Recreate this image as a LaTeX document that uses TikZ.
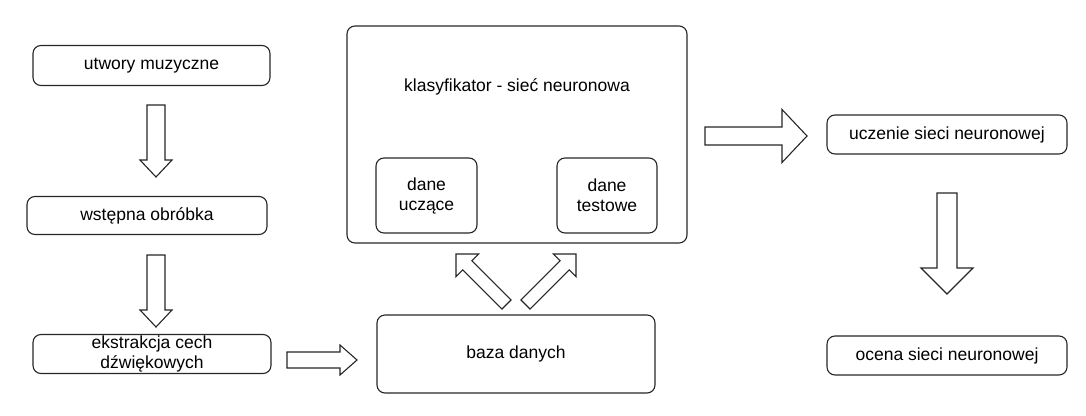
\documentclass[tikz,border=0pt]{standalone}
\usepackage{fontspec}
\setmainfont{Liberation Sans}
\usetikzlibrary{calc}
\tikzset{
	box/.style={rectangle, rounded corners=8pt, draw=black!85, line width=1.1pt, align=center, inner sep=0pt, font=\fontsize{17.5}{20}\selectfont},
	barrow/.style={draw=black!85, line width=1.1pt, fill=white, line join=miter},
	txt/.style={font=\fontsize{17.5}{20}\selectfont}
}
% block arrow: from, to, shaft half width, head half width, head length
\newcommand{\blockarrow}[5]{%
	\draw[barrow] let \p1=(#1), \p2=(#2), \n1={atan2(\y2-\y1,\x2-\x1)}, \n2={veclen(\x2-\x1,\y2-\y1)} in
	[shift={(\p1)}, rotate=\n1] (0pt,#3pt)--({\n2-#5pt},#3pt)--({\n2-#5pt},#4pt)--(\n2,0pt)
	--({\n2-#5pt},-#4pt)--({\n2-#5pt},-#3pt)--(0pt,-#3pt)--cycle;}
\begin{document}
\begin{tikzpicture}[x=1pt,y=-1pt]
\useasboundingbox (0,0) rectangle (1086,415);
% left column
\node[box, minimum width=237pt, minimum height=40pt](utw) at (151.5,65.5){utwory muzyczne};
\node[box, minimum width=240pt, minimum height=38pt](wst) at (147,215.5){wstępna obróbka};
\node[box, minimum width=238pt, minimum height=39pt](ekst) at (152,354){ekstrakcja cech\\dźwiękowych};
% middle
\node[box, minimum width=340pt, minimum height=217pt](klas) at (517,134.5){};
\node[txt](klastxt) at (517,87){klasyfikator - sieć neuronowa};
\node[box, minimum width=101pt, minimum height=75pt](ucz) at (426.5,195.5){dane\\uczące};
\node[box, minimum width=100pt, minimum height=75pt](test) at (607,195.5){dane\\testowe};
\node[box, minimum width=278pt, minimum height=78pt](baza) at (516,354){baza danych};
% right column
\node[box, minimum width=240pt, minimum height=39pt](ucz2) at (947,134.5){uczenie sieci neuronowej};
\node[box, minimum width=240pt, minimum height=39pt](ocena) at (947,355.5){ocena sieci neuronowej};
% arrow ends
\coordinate(a1s) at (156,105); \coordinate(a1e) at (156,177);
\coordinate(a2s) at (156,255); \coordinate(a2e) at (156,327);
\coordinate(a3s) at (287,360); \coordinate(a3e) at (357,360);
\coordinate(dls) at (506.5,304.5); \coordinate(dle) at (456,254);
\coordinate(drs) at (525.5,304.5); \coordinate(dre) at (576,254);
\coordinate(a4s) at (705,136); \coordinate(a4e) at (807,136);
\coordinate(a5s) at (947,193); \coordinate(a5e) at (947,294);
\blockarrow{a1s}{a1e}{9}{16}{17}
\blockarrow{a2s}{a2e}{9}{16}{17}
\blockarrow{a3s}{a3e}{8}{15}{17}
\blockarrow{dls}{dle}{6.5}{16}{16}
\blockarrow{drs}{dre}{6.5}{16}{16}
\blockarrow{a4s}{a4e}{9}{26.5}{25}
\blockarrow{a5s}{a5e}{10}{26}{26}
\end{tikzpicture}
\end{document}
